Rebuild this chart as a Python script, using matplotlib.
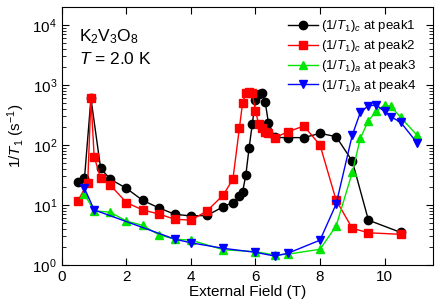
import matplotlib
matplotlib.use('Agg')
import matplotlib.pyplot as plt
from matplotlib.ticker import LogLocator, NullFormatter

plt.rcParams['font.family'] = ['Liberation Sans', 'DejaVu Sans']
plt.rcParams['mathtext.fontset'] = 'custom'
plt.rcParams['mathtext.rm'] = 'Liberation Sans'
plt.rcParams['mathtext.it'] = 'Liberation Sans:italic'

# (1/T1)_c at peak1
x1 = [0.5, 0.7, 0.9, 1.2, 1.5, 2, 2.5, 3, 3.5, 4, 4.5, 5, 5.3, 5.5, 5.6, 5.7,
      5.8, 5.9, 6.0, 6.1, 6.2, 6.3, 6.4, 6.6, 7.0, 7.5, 8.0, 8.5, 9.0, 9.5, 10.5]
y1 = [24.5, 28, 600, 41, 27, 19, 12, 9, 7, 6.6, 6.7, 9.4, 11, 14, 16.6, 31.6,
      88, 224, 562, 700, 725, 527, 236, 134, 133, 133, 157, 138, 54, 5.6, 3.5]

# (1/T1)_c at peak2
x2 = [0.5, 0.8, 0.9, 1.0, 1.2, 1.5, 2, 2.5, 3, 3.5, 4, 4.5, 5, 5.3, 5.5, 5.6,
      5.7, 5.8, 5.9, 6.0, 6.1, 6.2, 6.3, 6.4, 6.6, 7.0, 7.5, 8.0, 8.5, 9.0, 9.5, 10.5]
y2 = [11.8, 23.5, 600, 64, 28, 21.5, 11, 8.3, 7.1, 5.8, 5.6, 8, 14.7, 27, 190, 507,
      725, 776, 725, 372, 224, 190, 163, 157, 133, 166, 208, 100, 12, 4.1, 3.45, 3.25]

# (1/T1)_a at peak3
x3 = [0.7, 1.0, 1.5, 2, 2.5, 3, 3.5, 4, 5, 6, 6.6, 7, 8, 8.5, 9, 9.25, 9.5,
      9.75, 10, 10.2, 10.5, 11]
y3 = [15, 8, 7.6, 5.4, 4.6, 3.2, 2.7, 2.6, 1.8, 1.67, 1.47, 1.52, 1.83, 4.5, 35,
      130, 255, 370, 464, 440, 290, 147]

# (1/T1)_a at peak4
x4 = [0.7, 1.0, 3.5, 4, 5, 6, 6.6, 7, 8, 8.5, 9, 9.25, 9.5, 9.75, 10, 10.2, 10.5, 11]
y4 = [19, 8.3, 2.7, 2.35, 1.9, 1.63, 1.41, 1.57, 2.6, 10.4, 147, 350, 455, 460,
      365, 296, 240, 110]

fig = plt.figure(figsize=(4.36, 3.05), dpi=100)
ax = fig.add_axes([0.142, 0.131, 0.851, 0.846])

ms = 6
ax.plot(x1, y1, '-o', color='black', ms=ms, lw=1, label=r'(1/$T_1$)$_c$ at peak1')
ax.plot(x2, y2, '-s', color='red', ms=ms, lw=1, label=r'(1/$T_1$)$_c$ at peak2')
ax.plot(x3, y3, '-^', color='#00e600', ms=ms, lw=1, label=r'(1/$T_1$)$_a$ at peak3')
ax.plot(x4, y4, '-v', color='blue', ms=ms, lw=1, label=r'(1/$T_1$)$_a$ at peak4')

ax.set_yscale('log')
ax.set_xlim(0, 11.5)
ax.set_ylim(1, 2e4)
ax.set_xticks([0, 2, 4, 6, 8, 10])
ax.yaxis.set_major_locator(LogLocator(base=10, numticks=10))
ax.yaxis.set_minor_locator(LogLocator(base=10, subs=range(2, 10), numticks=10))
ax.yaxis.set_minor_formatter(NullFormatter())
ax.tick_params(which='both', direction='in', top=True, right=True, labelsize=11)
ax.tick_params(which='major', length=5)
ax.tick_params(which='minor', length=3)

ax.set_xlabel('External Field (T)', fontsize=11, labelpad=1)
ax.set_ylabel(r'1/$T_1$ (s$^{-1}$)', fontsize=11, labelpad=4)

ax.text(0.045, 0.92, r'K$_2$V$_3$O$_8$', transform=ax.transAxes, fontsize=12.5, va='top')
ax.text(0.045, 0.83, r'$T$ = 2.0 K', transform=ax.transAxes, fontsize=12.5, va='top')

ax.legend(loc='upper right', bbox_to_anchor=(0.985, 1.0), fontsize=9.5,
          frameon=False, handlelength=2.3, handletextpad=0.2, labelspacing=0.3,
          borderaxespad=0.45)

fig.savefig('out.png', dpi=100)
